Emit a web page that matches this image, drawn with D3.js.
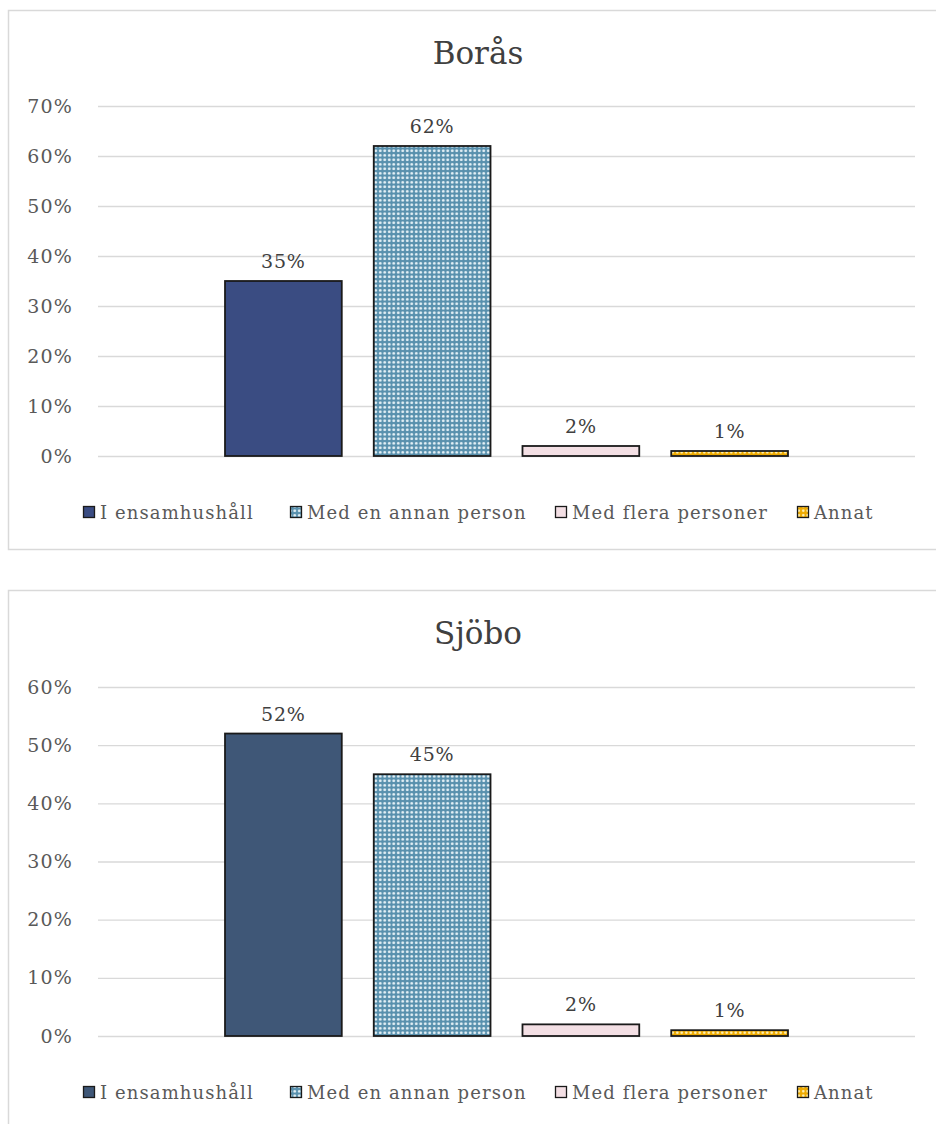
<!DOCTYPE html>
<html><head><meta charset="utf-8">
<script src="https://cdn.jsdelivr.net/npm/d3@7"></script>
<style>
body{margin:0;background:#fff;}
text{font-family:"DejaVu Serif",serif;}
</style></head>
<body><svg id="c" width="936" height="1124"></svg>
<script>
const series = ["I ensamhushåll","Med en annan person","Med flera personer","Annat"];
const category = ["Boende"];
const borasValues = [0.35, 0.62, 0.02, 0.01];
const sjoboValues = [0.52, 0.45, 0.02, 0.01];
const borasTicks = [0,0.1,0.2,0.3,0.4,0.5,0.6,0.7];
const sjoboTicks = [0,0.1,0.2,0.3,0.4,0.5,0.6];
const titles = ["Borås","Sjöbo"];

const svg = d3.select("#c");
const defs = svg.append("defs");
const p1 = defs.append("pattern").attr("id","dots").attr("width",4.5).attr("height",4.5).attr("patternUnits","userSpaceOnUse");
p1.append("rect").attr("width",4.5).attr("height",4.5).attr("fill","#5890ad");
p1.append("circle").attr("cx",2.25).attr("cy",2.25).attr("r",1.45).attr("fill","#e8f3f8");
const p2 = defs.append("pattern").attr("id","ydots").attr("width",4.5).attr("height",4.5).attr("patternUnits","userSpaceOnUse");
p2.append("rect").attr("width",4.5).attr("height",4.5).attr("fill","#eeaa00");
p2.append("circle").attr("cx",2.25).attr("cy",2.25).attr("r",1.3).attr("fill","#fff4c0");

const legendX = [83, 290, 555, 797];

function drawChart(cfg){
  const g = svg.append("g");
  g.append("rect").attr("x",8.5).attr("y",cfg.frameTop+0.5).attr("width",940).attr("height",cfg.frameH)
    .attr("fill","#fff").attr("stroke","#d9d9d9").attr("stroke-width",1.5);
  g.append("text").attr("x",478).attr("y",cfg.titleY).attr("text-anchor","middle")
    .attr("font-size",31).attr("fill","#404040").text(cfg.title);
  const y = d3.scaleLinear().domain([0, d3.max(cfg.ticks)]).range([cfg.y0, cfg.yTop]);
  const x0 = d3.scaleBand().domain(category).range([98,915]).paddingOuter(0.2256).paddingInner(0);
  const x1 = d3.scaleBand().domain(series).range([0,x0.bandwidth()]).paddingInner(0.215).paddingOuter(0);
  const ax = g.append("g").attr("transform","translate(98,0)")
    .call(d3.axisLeft(y).tickValues(cfg.ticks).tickFormat(d3.format(".0%")).tickSize(-817).tickPadding(25));
  ax.select(".domain").remove();
  ax.selectAll(".tick line").attr("stroke","#d9d9d9").attr("stroke-width",1.3);
  ax.selectAll(".tick text").attr("font-size",19).attr("letter-spacing",1.2).attr("fill","#595959").attr("font-family",null);
  const fills = [cfg.c1, "url(#dots)", "#f3dfe4", "url(#ydots)"];
  const bars = g.append("g").attr("transform",`translate(${x0(category[0])},0)`);
  bars.selectAll("rect").data(cfg.values).join("rect")
    .attr("x",(d,i)=>x1(series[i])).attr("width",x1.bandwidth())
    .attr("y",d=>y(d)).attr("height",d=>y(0)-y(d))
    .attr("fill",(d,i)=>fills[i]).attr("stroke","#1a1a1a").attr("stroke-width",1.8);
  bars.selectAll("text").data(cfg.values).join("text")
    .attr("x",(d,i)=>x1(series[i])+x1.bandwidth()/2).attr("y",d=>y(d)-13)
    .attr("text-anchor","middle").attr("font-size",19).attr("letter-spacing",0.8).attr("fill","#404040")
    .text(d=>d3.format(".0%")(d));
  const lg = g.append("g");
  series.forEach((s,i)=>{
    lg.append("rect").attr("x",legendX[i]+0.5).attr("y",cfg.legY-12.5).attr("width",11).attr("height",11)
      .attr("fill",fills[i]).attr("stroke","#1a1a1a").attr("stroke-width",1.3);
    lg.append("text").attr("x",legendX[i]+17).attr("y",cfg.legY).attr("font-size",18)
      .attr("letter-spacing",1.1).attr("fill","#595959").text(s);
  });
}
drawChart({title:titles[0], values:borasValues, ticks:borasTicks, frameTop:10, frameH:539, titleY:64, yTop:106, y0:456, legY:519, c1:"#3a4c82"});
drawChart({title:titles[1], values:sjoboValues, ticks:sjoboTicks, frameTop:590, frameH:560, titleY:644, yTop:687, y0:1036, legY:1099, c1:"#3f5777"});
</script></body></html>
